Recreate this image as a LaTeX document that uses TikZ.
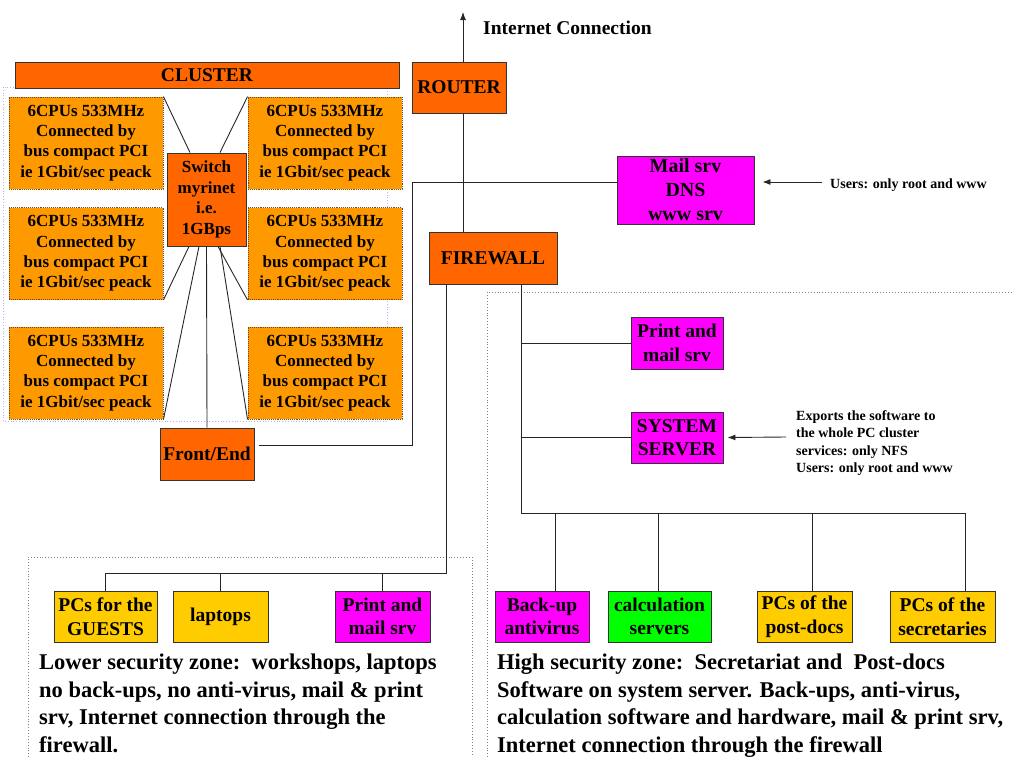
\documentclass[tikz,border=0pt]{standalone}
\usepackage{fontspec}
\setmainfont{Liberation Serif}
\usetikzlibrary{arrows.meta}

\definecolor{netorange}{HTML}{FF6600}
\definecolor{cpuorange}{HTML}{FF9900}
\definecolor{srvmagenta}{HTML}{FF00FF}
\definecolor{pcyellow}{HTML}{FFCC00}
\definecolor{calcgreen}{HTML}{00FF00}
\definecolor{lavender}{HTML}{BBB0EE}

\begin{document}
\begin{tikzpicture}[x=1pt,y=-1pt,
box/.style n args={3}{draw=black!80,line width=0.9pt,fill=#1,minimum width=#2,minimum height=#3,inner sep=0pt,align=center,font=\bfseries\fontsize{19.5}{23.5}\selectfont},
cpubox/.style={box={cpuorange}{154pt}{92pt},draw=brown!60!black,densely dotted,font=\bfseries\fontsize{17}{20.3}\selectfont},
note/.style={align=left,inner sep=0pt,font=\bfseries\fontsize{14}{17.3}\selectfont},
zone/.style={gray,dotted,line width=0.9pt},
zonetxt/.style={align=left,inner sep=0pt,anchor=north west,font=\bfseries\fontsize{22.5}{27.5}\selectfont},
link/.style={black!85,line width=0.9pt},
ptr/.style={link,-{Latex[length=8pt,width=6pt]}}]
\useasboundingbox (0,0) rectangle (1012,756);
% cluster
\draw[lavender,dotted,line width=0.8pt] (3,87) rectangle (387,421);
\node[box={netorange}{384pt}{26pt}] (cluster) at (207,75) {CLUSTER};
\foreach \n/\x/\y in {cl1/86/143,cl2/86/253.5,cl3/86/373,cr1/325/143,cr2/325/253.5,cr3/325/373} {
   \node[cpubox] (\n) at (\x,\y) {6CPUs 533MHz\\Connected by\\bus compact PCI\\ie 1Gbit/sec peack};
}
\node[box={netorange}{79pt}{93pt},font=\bfseries\fontsize{17}{20.5}\selectfont] (sw) at (206.5,199.5) {Switch\\myrinet\\i.e.\\1GBps};
\node[box={netorange}{94pt}{52pt}] (fe) at (207,454) {Front/End};
\draw[link] ([xshift=-16.5pt]sw.north) -- (cl1.north east);
\draw[link] ([xshift=13.5pt]sw.north) -- (cr1.north west);
\draw[link] ([xshift=-17.5pt]sw.south) -- (cl2.south east);
\draw[link] ([xshift=-7.5pt]sw.south) -- (cl3.south east);
\draw[link] (sw.south) -- (fe.north);
\draw[link] ([xshift=11.5pt]sw.south) -- (cr2.south west);
\draw[link] ([xshift=13.5pt]sw.south) -- (cr3.south west);
% router, firewall, mail
\node[box={netorange}{94pt}{51pt}] (rt) at (459,87.5) {ROUTER};
\node[box={netorange}{128pt}{52pt}] (fw) at (493,258) {FIREWALL};
\node[box={srvmagenta}{137pt}{68pt},font=\bfseries\fontsize{20}{24}\selectfont] (mail) at (685.5,190) {Mail srv\\DNS\\www srv};
\coordinate (inet) at (463,12);
\draw[ptr] (rt.north -| inet) -- (inet);
\node[anchor=west,inner sep=0pt,font=\bfseries\fontsize{19.5}{23}\selectfont] (itxt) at (483,28) {Internet Connection};
\draw[link] (rt.south -| inet) -- (fw.north -| inet);
\coordinate (lan) at (412,182);
\draw[link] ([xshift=5pt,yshift=9pt]fe.east) -| (lan) -- ([yshift=8pt]mail.west);
\node[note,anchor=west] (mnote) at (830,185) {Users: only root and www};
\draw[ptr] ([xshift=-8pt,yshift=3pt]mnote.west) -- ([xshift=8pt,yshift=8pt]mail.east);
% high security zone
\draw[zone] (487,760) -- (487,292) -- (1014,292);
\node[box={srvmagenta}{92pt}{52pt}] (pms) at (677,343) {Print and\\mail srv};
\node[box={srvmagenta}{92pt}{51pt}] (sys) at (677,437.5) {SYSTEM\\SERVER};
\node[note,anchor=west] (snote) at (796,443) {Exports the software to\\the whole PC cluster\\services: only NFS\\Users: only root and www};
\draw[ptr] ([xshift=-10pt,yshift=6pt]snote.west) -- ([xshift=4pt]sys.east);
\node[box={srvmagenta}{94pt}{51pt}] (bk) at (542,616.5) {Back-up\\antivirus};
\node[box={calcgreen}{103pt}{51pt}] (calc) at (659.5,616.5) {calculation\\servers};
\node[box={pcyellow}{95pt}{51pt}] (pd) at (804.5,616.5) {PCs of the\\post-docs};
\node[box={pcyellow}{105pt}{51pt}] (sec) at (942.5,616.5) {PCs of the\\secretaries};
\coordinate (hb) at (521,513);
\coordinate (he) at (965,513);
\draw[link] (fw.south -| hb) -- (hb) -- (he) -- (he |- sec.north);
\draw[link] (pms.west) -- (pms.west -| hb);
\draw[link] (sys.west) -- (sys.west -| hb);
\coordinate (d1) at (555,513);
\coordinate (d2) at (658,513);
\coordinate (d3) at (812,513);
\draw[link] (d1) -- (d1 |- bk.north);
\draw[link] (d2) -- (d2 |- calc.north);
\draw[link] (d3) -- (d3 |- pd.north);
\node[zonetxt] (htxt) at (497,654) {High security zone:\ \ Secretariat and\ \ Post-docs\\Software on system server. Back-ups, anti-virus,\\calculation software and hardware, mail \& print srv,\\Internet connection through the firewall};
% lower security zone
\draw[zone] (28,760) -- (28,557) -- (472,557) -- (472,760);
\node[box={pcyellow}{103pt}{51pt}] (gst) at (105.5,616.5) {PCs for the\\GUESTS};
\node[box={pcyellow}{95pt}{51pt}] (lap) at (220.5,616.5) {laptops};
\node[box={srvmagenta}{95pt}{51pt}] (lpm) at (382.5,616.5) {Print and\\mail srv};
\coordinate (lb) at (446,573);
\draw[link] (fw.south -| lb) -- (lb) -| (gst.north);
\draw[link] (lap.north) -- (lap.north |- lb);
\draw[link] (lpm.north) -- (lpm.north |- lb);
\node[zonetxt] (ltxt) at (39,654) {Lower security zone:\ \ workshops, laptops\\no back-ups, no anti-virus, mail \& print\\srv, Internet connection through the\\firewall.};
\end{tikzpicture}
\end{document}
